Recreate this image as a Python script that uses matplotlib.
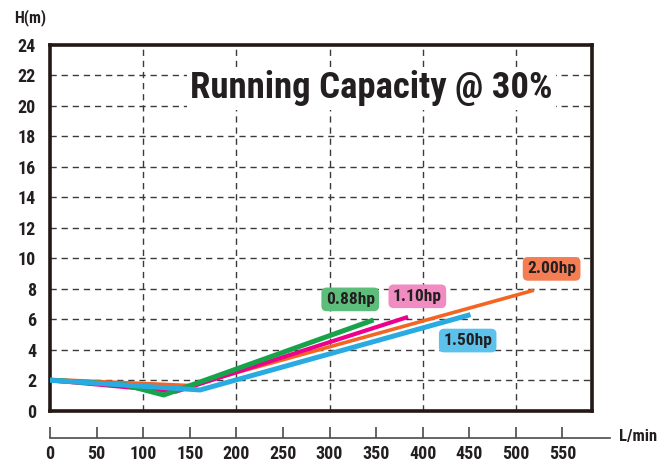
import matplotlib
matplotlib.use("Agg")
import matplotlib.pyplot as plt
from matplotlib import font_manager

# pick a narrow bold font if one is there
names = {f.name for f in font_manager.fontManager.ttflist}
prefs = ["Roboto Condensed", "Archivo Narrow", "Asap Condensed",
         "Barlow Semi Condensed", "Liberation Sans"]
narrow = next(n for n in prefs + ["DejaVu Sans"] if n in names or n == "DejaVu Sans")
plt.rcParams["font.family"] = [narrow, "DejaVu Sans"]
plt.rcParams["font.weight"] = "bold"

# curves (flow L/min, head m)
flow_088 = [0, 80, 122, 347]
head_088 = [2.0, 1.7, 1.03, 5.95]
flow_110 = [0, 135, 384]
head_110 = [2.0, 1.25, 6.15]
flow_200 = [0, 150, 519]
head_200 = [2.05, 1.65, 7.9]
flow_150 = [0, 161, 451]
head_150 = [2.0, 1.36, 6.3]

labels = ["0.88hp", "1.10hp", "2.00hp", "1.50hp"]
label_x = [322, 394, 538, 448]
label_y = [7.3, 7.5, 9.3, 4.6]
label_fc = ["#5dbe7b", "#f08cc2", "#f47d53", "#5cc2ec"]

x_ticks = list(range(0, 600, 50))
y_ticks = list(range(0, 26, 2))

W, H = 668, 466
fig = plt.figure(figsize=(W / 100, H / 100), dpi=100)

left = 50 / W
ax = fig.add_axes([left, 1 - 410.7 / H, (591.7 - 50) / W, 366 / H])
ax.set_xlim(0, 581)
ax.set_ylim(0, 24)

grid_kw = dict(color="#3a3a3a", lw=1.0, dashes=(4.5, 3.5), zorder=1)
for gx in range(100, 600, 100):
    ax.axvline(gx, **grid_kw)
for gy in y_ticks[1:-1]:
    ax.axhline(gy, **grid_kw)

ax.plot(flow_200, head_200, color="#f26522", lw=2.6, zorder=3, solid_capstyle="butt")
ax.plot(flow_110, head_110, color="#ec008c", lw=3.0, zorder=4, solid_capstyle="butt")
ax.plot(flow_088, head_088, color="#16a34a", lw=3.6, zorder=5, solid_capstyle="butt")
ax.plot(flow_150, head_150, color="#29abe2", lw=3.6, zorder=6, solid_capstyle="butt")

for txt, lx, ly, fc in zip(labels, label_x, label_y, label_fc):
    ax.text(lx, ly, txt, ha="center", va="center", fontsize=12.5, color="#231f20",
            fontweight="bold", zorder=7,
            bbox=dict(boxstyle="round,pad=0.25,rounding_size=0.3", fc=fc, ec="none"))

ax.text((371.5 - 50) / 541.7, (410.7 - 88.5) / 366, "Running Capacity @ 30%",
        transform=ax.transAxes, ha="center", va="center", fontsize=26.5,
        fontweight="bold", color="#231f20", zorder=8,
        bbox=dict(boxstyle="square,pad=0.1", fc="white", ec="none"))

for s in ax.spines.values():
    s.set_linewidth(2.6)
    s.set_color("#231815")
ax.set_xticks([])
ax.set_yticks(y_ticks)
ax.tick_params(axis="y", length=0, pad=10, labelsize=13, labelcolor="#231f20")

# separate flow axis underneath
ax2 = fig.add_axes([left, 1 - 438.3 / H, (610 - 50) / W, 0.001])
ax2.set_xlim(0, 601)
ax2.set_yticks([])
for k in ["top", "left", "right"]:
    ax2.spines[k].set_visible(False)
ax2.spines["bottom"].set_color("#4a4a4a")
ax2.spines["bottom"].set_linewidth(1.2)
ax2.set_xticks(x_ticks)
ax2.tick_params(axis="x", direction="in", length=8, width=1.2, color="#4a4a4a",
                pad=5, labelsize=13, labelcolor="#231f20")
ax2.patch.set_visible(False)

fig.text(619 / W, 1 - 436 / H, "L/min", ha="left", va="center", fontsize=12,
         color="#231f20")
fig.text(30 / W, 1 - 18 / H, "H(m)", ha="center", va="center", fontsize=11.5,
         color="#231f20")

fig.savefig("out.png", dpi=100)
